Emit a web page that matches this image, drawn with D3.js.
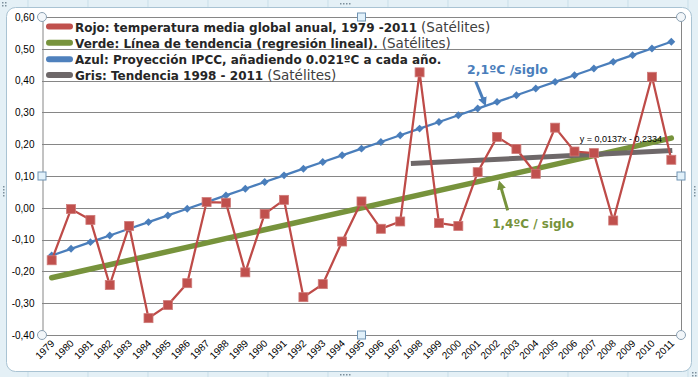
<!DOCTYPE html>
<html>
<head>
<meta charset="utf-8">
<script src="https://cdn.jsdelivr.net/npm/d3@7"></script>
<style>
  body { margin: 0; background: #e4f0f6; }
  svg { display: block; }
</style>
</head>
<body>
<div id="chart"></div>
<script>
const years = [1979, 1980, 1981, 1982, 1983, 1984, 1985, 1986, 1987, 1988, 1989, 1990, 1991,
    1992, 1993, 1994, 1995, 1996, 1997, 1998, 1999, 2000, 2001, 2002, 2003, 2004, 2005,
    2006, 2007, 2008, 2009, 2010, 2011]

// Rojo: temperatura media global anual (satélites); 2009 has no marker in the original
const redValues = [-0.165, -0.004, -0.038, -0.243, -0.057, -0.347, -0.306, -0.237, 0.018, 0.016,
    -0.203, -0.019, 0.025, -0.281, -0.240, -0.106, 0.020, -0.066, -0.043, 0.426, -0.048, -0.057,
    0.112, 0.223, 0.185, 0.107, 0.252, 0.177, 0.172, -0.040, null, 0.412, 0.151]

// Azul: proyección IPCC
const blueValues = [-0.150, -0.129, -0.108, -0.087, -0.066, -0.045, -0.024, -0.003, 0.018, 0.039,
    0.060, 0.081, 0.102, 0.123, 0.144, 0.165, 0.186, 0.207, 0.228, 0.249, 0.270, 0.291, 0.312,
    0.333, 0.354, 0.375, 0.396, 0.417, 0.438, 0.459, 0.480, 0.501, 0.522]

// trend lines (end points)
const greenTrend = [{year: 1979, v: -0.220}, {year: 2011, v: 0.219}]
const grayTrend = [{year: 1997.55, v: 0.139}, {year: 2011.05, v: 0.180}]

const yTicks = [-0.4, -0.3, -0.2, -0.1, 0, 0.1, 0.2, 0.3, 0.4, 0.5, 0.6]

const legendItems = [
    {color: "#c0504d", text: "Rojo: temperatura media global anual, 1979 -2011", extra: "(Satélites)"},
    {color: "#77933c", text: "Verde: Línea de tendencia (regresión lineal).", extra: "(Satélites)"},
    {color: "#4f81bd", text: "Azul: Proyección IPCC, añadiendo 0.021ºC a cada año.", extra: ""},
    {color: "#6e6869", text: "Gris: Tendencia 1998 - 2011", extra: "(Satélites)"}
]

const W = 698, H = 377
const margin = {top: 17, right: 17, bottom: 42, left: 42}
const width = W - margin.left - margin.right
const height = H - margin.top - margin.bottom

const svg = d3.select("#chart").append("svg")
    .attr("width", W)
    .attr("height", H)
    .style("font-family", "'Liberation Sans', Arial, sans-serif")

// spreadsheet background + chart area
const bg = svg.append("g")
bg.append("rect").attr("width", W).attr("height", H).attr("fill", "#e4f0f6")
;[28, 88, 148, 208, 268, 328, 388, 448, 508, 568, 628, 688].forEach(x => {
    bg.append("line").attr("x1", x).attr("x2", x).attr("y1", 0).attr("y2", H)
        .attr("stroke", "#c9dfe9").attr("stroke-width", 1)
})
bg.append("rect")
    .attr("x", 6.5).attr("y", 7.5).attr("width", 685).attr("height", 364)
    .attr("rx", 9).attr("fill", "#fff").attr("stroke", "#a9c3d3")

// little drag grips of the frame
const grips = [[340, 3, 4, 1], [3, 186, 1, 4], [340, 374, 4, 1], [694, 186, 1, 4], [2, 2, 2, 2], [692, 372, 2, 2]]
grips.forEach(([gx, gy, nx, ny]) => {
    for (let i = 0; i < nx; i++) for (let j = 0; j < ny; j++) {
        bg.append("rect").attr("x", gx + i * 3).attr("y", gy + j * 3)
            .attr("width", 1.5).attr("height", 1.5).attr("fill", "#7c8f9c")
    }
})

const g = svg.append("g")
    .attr("transform", "translate(" + margin.left + "," + margin.top + ")")

const x = d3.scaleLinear()
    .domain([1978.5, 2011.5])
    .range([0, width])

const y = d3.scaleLinear()
    .domain([-0.4, 0.6])
    .range([height, 0])

const esLocale = d3.formatLocale({decimal: ",", thousands: ".", grouping: [3], currency: ["", " €"], minus: "-"})
const fmt = esLocale.format(".2f")

// gridlines
g.append("g")
    .selectAll("line")
    .data(yTicks)
    .join("line")
    .attr("x1", 0).attr("x2", width)
    .attr("y1", d => Math.round(y(d)) + 0.5).attr("y2", d => Math.round(y(d)) + 0.5)
    .attr("stroke", "#868686")

g.append("line")
    .attr("x1", width + 0.5).attr("x2", width + 0.5).attr("y1", 0).attr("y2", height)
    .attr("stroke", "#868686")

// y axis
const yAxis = g.append("g")
    .attr("transform", "translate(0.5,0)")
    .call(d3.axisLeft(y).tickValues(yTicks).tickFormat(fmt).tickSize(0).tickPadding(8))
yAxis.select(".domain").attr("stroke", "#868686")
yAxis.selectAll("text").attr("font-size", 10).attr("fill", "#000")
    .attr("font-family", "'Liberation Sans', Arial, sans-serif")

// x axis
const xAxis = g.append("g")
    .attr("transform", "translate(0," + height + ")")
    .call(d3.axisBottom(x).tickValues(years).tickFormat(d => d).tickSize(0))
xAxis.select(".domain").remove()
xAxis.selectAll("text")
    .attr("font-size", 10).attr("fill", "#000")
    .attr("font-family", "'Liberation Sans', Arial, sans-serif")
    .attr("text-anchor", "end")
    .attr("dy", null).attr("y", 0)
    .attr("transform", "translate(3,9) rotate(-45)")

// trend lines
const line = d3.line().x(d => x(d.year)).y(d => y(d.v))

g.append("path")
    .datum(greenTrend)
    .attr("d", line)
    .attr("fill", "none")
    .attr("stroke", "#77933c")
    .attr("stroke-width", 5.5)
    .attr("stroke-linecap", "round")

g.append("path")
    .datum(grayTrend)
    .attr("d", line)
    .attr("fill", "none")
    .attr("stroke", "#6e6869")
    .attr("stroke-width", 5)

// blue projection
const blueData = years.map((yr, i) => ({year: yr, v: blueValues[i]}))
g.append("path")
    .datum(blueData)
    .attr("d", line)
    .attr("fill", "none")
    .attr("stroke", "#4a7ebb")
    .attr("stroke-width", 2.25)

g.append("g")
    .selectAll("path")
    .data(blueData)
    .join("path")
    .attr("d", d3.symbol(d3.symbolDiamond2, 40))
    .attr("transform", d => "translate(" + x(d.year) + "," + y(d.v) + ")")
    .attr("fill", "#4a7ebb")

// red temperature (empty cells connected, as in the original)
const redData = years.map((yr, i) => ({year: yr, v: redValues[i]})).filter(d => d.v !== null)
g.append("path")
    .datum(redData)
    .attr("d", line)
    .attr("fill", "none")
    .attr("stroke", "#be4b48")
    .attr("stroke-width", 2.25)

g.append("g")
    .selectAll("rect")
    .data(redData)
    .join("rect")
    .attr("x", d => x(d.year) - 4.5)
    .attr("y", d => y(d.v) - 4.5)
    .attr("width", 9)
    .attr("height", 9)
    .attr("fill", "#c0504d")
    .attr("stroke", "#cf7b79")
    .attr("stroke-width", 0.8)

// trend equation
g.append("text")
    .attr("x", x(2006.27))
    .attr("y", y(0.206))
    .attr("font-size", 9)
    .attr("fill", "#000")
    .text("y = 0,0137x - 0,2334")

// annotations with arrows
const defs = svg.append("defs")
;[["arrBlue", "#4a7ebb"], ["arrGreen", "#77933c"]].forEach(([id, c]) => {
    defs.append("marker")
        .attr("id", id)
        .attr("viewBox", "0 0 10 10")
        .attr("refX", 6).attr("refY", 5)
        .attr("markerWidth", 3).attr("markerHeight", 3)
        .attr("orient", "auto")
        .append("path").attr("d", "M0,0L10,5L0,10z").attr("fill", c)
})

g.append("text")
    .attr("x", x(2000.45)).attr("y", y(0.42))
    .attr("font-family", "'DejaVu Sans', Verdana, sans-serif")
    .attr("font-weight", "bold").attr("font-size", 12.5)
    .attr("fill", "#4a7ebb")
    .text("2,1ºC /siglo")
g.append("line")
    .attr("x1", x(2000.9)).attr("y1", y(0.397))
    .attr("x2", x(2001.35)).attr("y2", y(0.33))
    .attr("stroke", "#4a7ebb").attr("stroke-width", 3)
    .attr("marker-end", "url(#arrBlue)")

g.append("text")
    .attr("x", x(2001.75)).attr("y", y(-0.063))
    .attr("font-family", "'DejaVu Sans', Verdana, sans-serif")
    .attr("font-weight", "bold").attr("font-size", 12)
    .attr("fill", "#77933c")
    .text("1,4ºC / siglo")
g.append("line")
    .attr("x1", x(2002.55)).attr("y1", y(-0.008))
    .attr("x2", x(2002.15)).attr("y2", y(0.075))
    .attr("stroke", "#77933c").attr("stroke-width", 3)
    .attr("marker-end", "url(#arrGreen)")

// plot area selection handles
const handles = g.append("g")
;[[0, 0], [width, 0], [0, height], [width, height]].forEach(([hx, hy]) => {
    handles.append("circle").attr("cx", hx).attr("cy", hy).attr("r", 4.5)
        .attr("fill", "#f2f6f9").attr("stroke", "#8aa0b2")
})
;[[width / 2, 0], [0, height / 2], [width, height / 2], [width / 2, height]].forEach(([hx, hy]) => {
    handles.append("rect").attr("x", hx - 4).attr("y", hy - 4).attr("width", 8).attr("height", 8)
        .attr("fill", "#e2f1fa").attr("stroke", "#6f93b3")
})

// legend
const legend = g.append("g").attr("transform", "translate(5,9.5)")
const rows = legend.selectAll("g")
    .data(legendItems)
    .join("g")
    .attr("transform", (d, i) => "translate(0," + [0, 16.2, 32.7, 48.6][i] + ")")

rows.append("line")
    .attr("x1", 2).attr("x2", 23)
    .attr("stroke", d => d.color)
    .attr("stroke-width", 6)
    .attr("stroke-linecap", "round")

const txt = rows.append("text")
    .attr("x", 28)
    .attr("y", 5)
txt.append("tspan")
    .attr("font-family", "'DejaVu Sans', Verdana, sans-serif")
    .attr("font-weight", "bold")
    .attr("font-size", 12)
    .attr("fill", "#262626")
    .text(d => d.text)
txt.append("tspan")
    .attr("dx", 4)
    .attr("font-family", "'DejaVu Sans', Verdana, sans-serif")
    .attr("font-size", 13.5)
    .attr("fill", "#404040")
    .text(d => d.extra)
</script>
</body>
</html>
